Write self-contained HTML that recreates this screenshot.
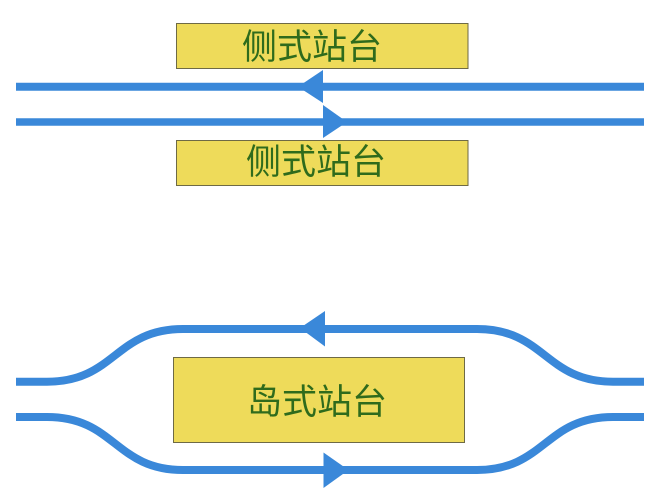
<!DOCTYPE html>
<html>
<head>
<meta charset="utf-8">
<style>
  html, body { margin: 0; padding: 0; background: #ffffff; }
  body { width: 660px; height: 495px; overflow: hidden; }
  svg { display: block; }
  text { font-family: "Liberation Sans", "Noto Sans CJK SC", "WenQuanYi Zen Hei", sans-serif; font-size: 35px; fill: #2f6b1c; }
</style>
</head>
<body>
<svg width="660" height="495" viewBox="0 0 660 495" xmlns="http://www.w3.org/2000/svg">
  <rect x="0" y="0" width="660" height="495" fill="#ffffff"/>

  <!-- Side platforms -->
  <rect x="176.5" y="23.5" width="291.5" height="45" fill="#eedb5a" stroke="#6e6a45" stroke-width="1"/>
  <text x="242" y="59">侧式站台</text>

  <line x1="16" y1="86.7" x2="644" y2="86.7" stroke="#3a88d9" stroke-width="8"/>
  <line x1="16" y1="122" x2="644" y2="122" stroke="#3a88d9" stroke-width="7.5"/>
  <polygon points="298,86.7 323,70 323,103" fill="#3a88d9"/>
  <polygon points="347,122 323,105 323,138" fill="#3a88d9"/>

  <rect x="176.5" y="140.5" width="291.5" height="45" fill="#eedb5a" stroke="#6e6a45" stroke-width="1"/>
  <text x="246" y="174">侧式站台</text>

  <!-- Island platform -->
  <path d="M16,381.7 L47,381.7 C115,381.7 115,329 183,329 L477,329 C545,329 545,381.7 613,381.7 L644,381.7"
        fill="none" stroke="#3a88d9" stroke-width="8"/>
  <path d="M16,417 L47,417 C115,417 115,470 183,470 L477,470 C545,470 545,417 613,417 L644,417"
        fill="none" stroke="#3a88d9" stroke-width="8"/>
  <polygon points="300,328 325,311 325,346.5" fill="#3a88d9"/>
  <polygon points="348.5,470 323.5,452.5 323.5,488" fill="#3a88d9"/>

  <rect x="173.5" y="357.5" width="291" height="85" fill="#eedb5a" stroke="#6e6a45" stroke-width="1"/>
  <text x="247" y="414">岛式站台</text>
</svg>
</body>
</html>
